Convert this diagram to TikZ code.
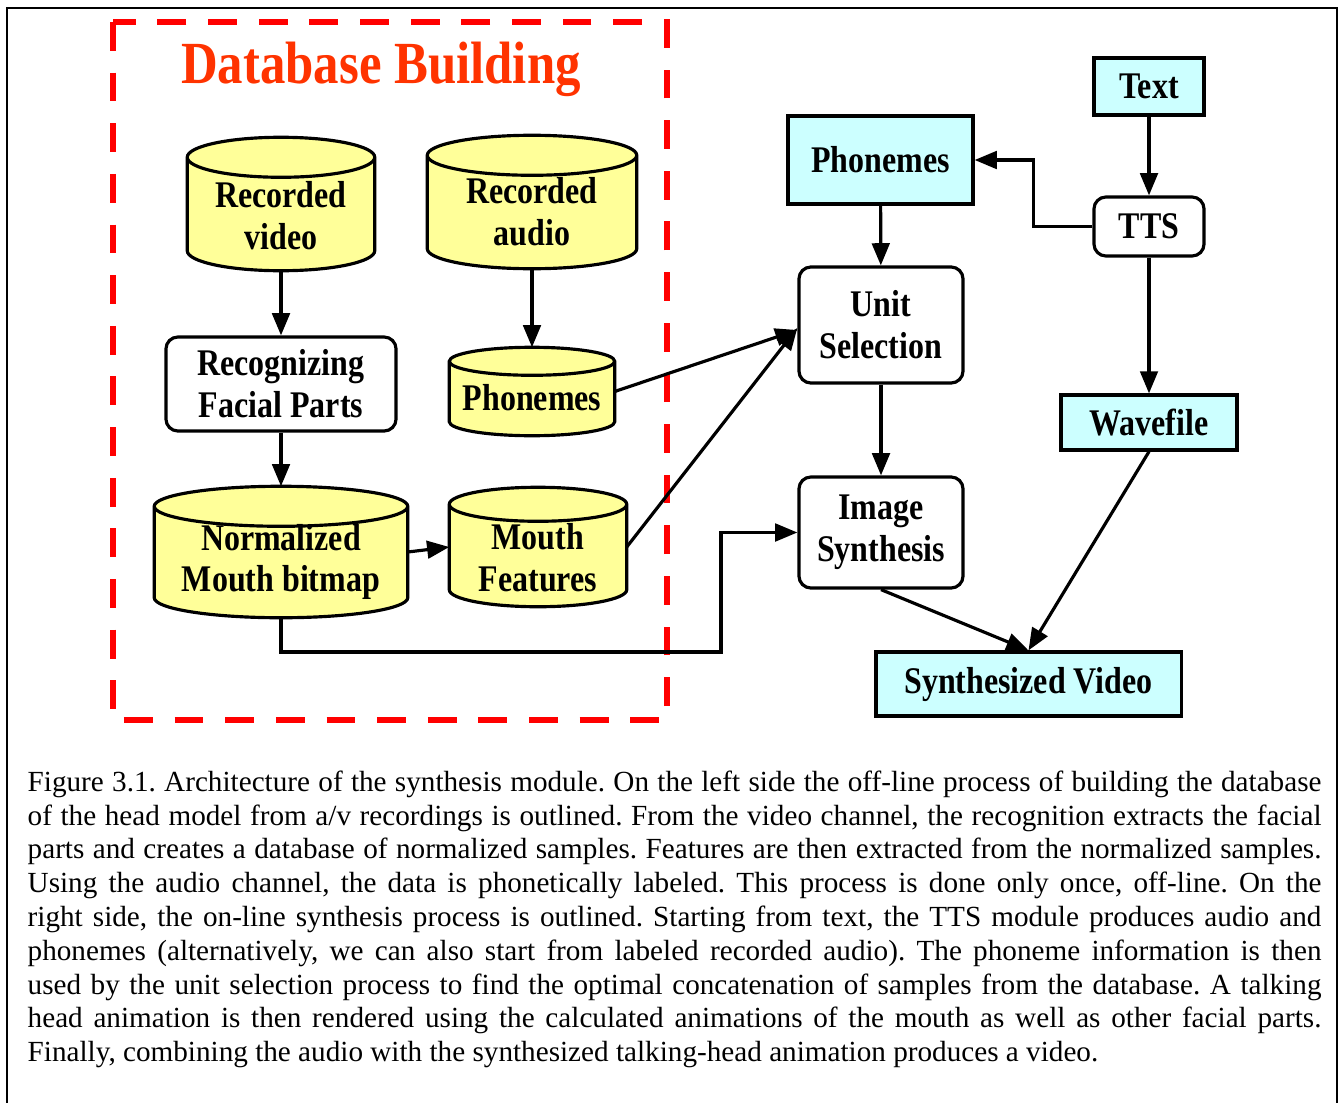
\documentclass[tikz,border=0pt]{standalone}
\usepackage{fontspec}
\setmainfont{Liberation Serif}
\newfontface\figfont[FakeStretch=0.85]{Liberation Serif Bold}
\usetikzlibrary{arrows.meta, calc, backgrounds}

\definecolor{dbyellow}{HTML}{FFFF99}
\definecolor{iocyan}{HTML}{CCFFFF}
\definecolor{titlered}{HTML}{FF3300}

\tikzset{
    lbl/.style={font=\fontsize{10.7}{11.9}\figfont, align=center},
    proc/.style={lbl, draw, line width=0.9pt, rounded corners=0.12cm, fill=white, inner sep=0pt},
    iobox/.style={lbl, draw, line width=0.9pt, fill=iocyan, inner sep=0pt},
    drum/.style={inner sep=0pt},
    flow/.style={line width=0.9pt, -{Triangle[length=6.3pt, width=5pt]}},
}

% yellow cylinder round a named node, #2 = radius of the end ellipse
\newcommand{\drawdrum}[2]{%
    \path let \p1=(#1.north west), \p2=(#1.south east), \n1={(\x2-\x1)/2} in
        [draw, line width=0.9pt, fill=dbyellow]
        (\x1,\y1-#2) -- (\x1,\y2+#2)
        arc[start angle=180, end angle=360, x radius=\n1, y radius=#2]
        -- (\x2,\y1-#2)
        arc[start angle=0, end angle=180, x radius=\n1, y radius=#2]
        -- cycle
        (\x1,\y1-#2) arc[start angle=180, end angle=360, x radius=\n1, y radius=#2];
}

\begin{document}
\begin{tikzpicture}[x=0.01cm, y=-0.01cm]
    \useasboundingbox (0,0) rectangle (1342,1103);
    \draw[line width=0.6pt] (7,1103) |- (1337,8) -- (1337,1103);

    \node (dbtitle) [anchor=base, font=\fontsize{17}{17}\figfont, text=titlered] at (381,83) {Database Building};

    % database side
    \node (rvid) [drum, minimum width=1.86cm, minimum height=1.32cm,
        label={[lbl, yshift=-0.12cm]center:Recorded\\video}] at (281,204) {};
    \node (raud) [drum, minimum width=2.08cm, minimum height=1.32cm,
        label={[lbl, yshift=-0.10cm]center:Recorded\\audio}] at (532,202) {};
    \node (recog) [proc, minimum width=2.30cm, minimum height=0.94cm] at (281,384) {Recognizing\\Facial Parts};
    \node (phdb) [drum, minimum width=1.64cm, minimum height=0.87cm,
        label={[lbl, yshift=-0.065cm]center:Phonemes}] at (532,391.5) {};
    \node (norm) [drum, minimum width=2.52cm, minimum height=1.30cm,
        label={[lbl, yshift=-0.10cm]center:Normalized\\Mouth bitmap}] at (281,552) {};
    \node (mfeat) [drum, minimum width=1.76cm, minimum height=1.18cm,
        label={[lbl, yshift=-0.11cm]center:Mouth\\Features}] at (538,547) {};

    % synthesis side
    \node (phbox) [iobox, minimum width=1.85cm, minimum height=0.88cm] at (880.5,160) {Phonemes};
    \node (txt) [iobox, minimum width=1.10cm, minimum height=0.57cm] at (1149,86.5) {Text};
    \node (tts) [proc, minimum width=1.10cm, minimum height=0.59cm] at (1149,226.5) {TTS};
    \node (unitsel) [proc, minimum width=1.64cm, minimum height=1.16cm] at (881,325) {Unit\\Selection};
    \node (imgsyn) [proc, minimum width=1.64cm, minimum height=1.11cm] at (881,532.5) {Image\\Synthesis};
    \node (wave) [iobox, minimum width=1.76cm, minimum height=0.55cm] at (1149,422.5) {Wavefile};
    \node (synvid) [iobox, minimum width=3.05cm, minimum height=0.64cm] at (1028.5,684) {Synthesized Video};

    \draw[flow] (rvid) -- (recog);
    \draw[flow] (raud) -- (phdb);
    \draw[flow] (recog) -- (norm);
    \draw[flow] (norm.east) -- (mfeat.west);
    \draw[flow] (phdb.east) -- ([yshift=-0.05cm]unitsel.west);
    \draw[flow] (mfeat.east) -- ([yshift=-0.03cm]unitsel.west);
    \coordinate (detour) at (721,652);
    \draw[flow] (norm.south) |- (detour) |- (imgsyn.west);
    \draw[flow] (phbox) -- (unitsel);
    \draw[flow] (txt) -- (tts);
    \draw[flow] (tts.west) -- ++(-59,0) |- (phbox.east);
    \draw[flow] (unitsel) -- (imgsyn);
    \draw[flow] (tts) -- (wave);
    \draw[flow] (imgsyn.south) -- (synvid.north);
    \draw[flow] (wave.south) -- (synvid.north);

    \begin{scope}[on background layer]
        \draw[red, line width=1.7pt, dash pattern=on 8.2pt off 6.2pt] (113,22) rectangle (667,720);
        \foreach \drm/\rad in {rvid/0.2cm, raud/0.2cm, phdb/0.14cm, norm/0.2cm, mfeat/0.17cm}
            {\drawdrum{\drm}{\rad}}
    \end{scope}

    \node (caption) [anchor=north west, inner sep=0pt, text width=12.93cm, align=justify,
        font=\fontsize{8.3}{9.61}\selectfont] at (27,770) {\frenchspacing\hyphenpenalty=10000\exhyphenpenalty=10000
        Figure 3.1. Architecture of the synthesis module. On the left side the off-line process of building the database\linebreak
        of the head model from a/v recordings is outlined. From the video channel, the recognition extracts the facial\linebreak
        parts and creates a database of normalized samples. Features are then extracted from the normalized samples.\linebreak
        Using the audio channel, the data is phonetically labeled. This process is done only once, off-line. On the\linebreak
        right side, the on-line synthesis process is outlined. Starting from text, the TTS module produces audio and\linebreak
        phonemes (alternatively, we can also start from labeled recorded audio). The phoneme information is then\linebreak
        used by the unit selection process to find the optimal concatenation of samples from the database. A talking\linebreak
        head animation is then rendered using the calculated animations of the mouth as well as other facial parts.\linebreak
        Finally, combining the audio with the synthesized talking-head animation produces a video.};
\end{tikzpicture}
\end{document}
